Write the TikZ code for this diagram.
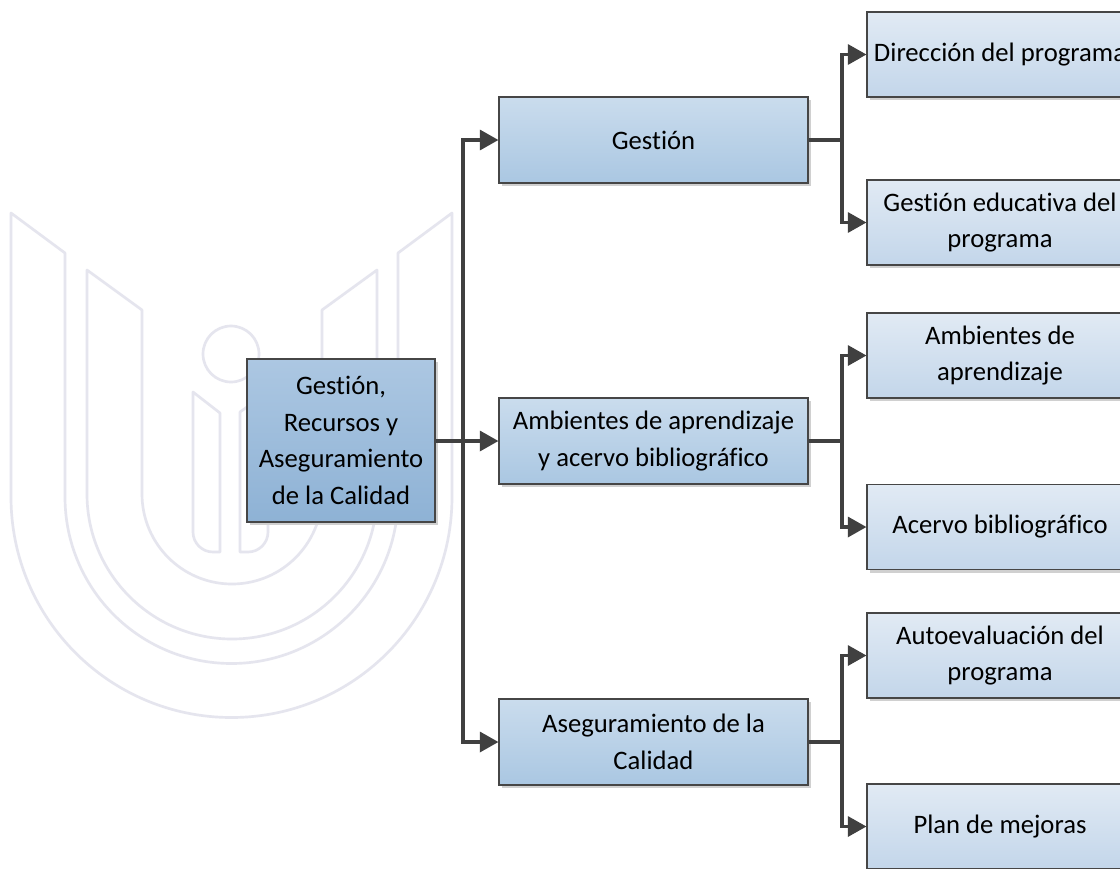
\documentclass[tikz,border=0pt]{standalone}
\usepackage{fontspec}
\setmainfont{Carlito}[Ligatures=NoCommon]
\usetikzlibrary{arrows.meta,shadows}
\definecolor{wmcol}{RGB}{229,229,238}
\definecolor{lineC}{RGB}{64,64,64}
\definecolor{edgeC}{RGB}{70,70,70}
\definecolor{shadowC}{RGB}{208,208,208}
\definecolor{rootTop}{RGB}{172,199,226}
\definecolor{rootBot}{RGB}{142,178,213}
\definecolor{midTop}{RGB}{202,220,237}
\definecolor{midBot}{RGB}{170,199,226}
\definecolor{leafTop}{RGB}{225,234,244}
\definecolor{leafBot}{RGB}{195,214,234}
\begin{document}
\begin{tikzpicture}[x=0.75pt,y=-0.75pt,
  wm/.style={draw=wmcol,line width=2pt,line join=round},
  boxbase/.style={rectangle,draw=edgeC,line width=0.8pt,inner sep=0pt,align=center,
    font=\fontsize{20}{27.5}\selectfont,
    drop shadow={shadow xshift=2.6pt,shadow yshift=-2.6pt,fill=shadowC,opacity=1}},
  rootbox/.style={boxbase,minimum width=141pt,minimum height=122.25pt,top color=rootTop,bottom color=rootBot},
  midbox/.style={boxbase,minimum width=231.75pt,minimum height=64.5pt,top color=midTop,bottom color=midBot},
  leafbox/.style={boxbase,minimum width=199.5pt,minimum height=63.75pt,top color=leafTop,bottom color=leafBot},
  conn/.style={draw=lineC,line width=2.6pt},
  arr/.style={conn,-{Triangle[length=14pt,width=15pt]}}]
\useasboundingbox (0,0) rectangle (1120,868);
\clip (0,0) rectangle (1120,868);
\fill[white] (0,0) rectangle (1120,868);
% watermark
\draw[wm] (11,213) -- (11,497) arc[start angle=180,end angle=0,radius=220.5] -- (452,213) -- (398,253) -- (398,497) arc[start angle=0,end angle=180,radius=166.5] -- (65,253) -- cycle;
\draw[wm] (87,270) -- (87,494) arc[start angle=180,end angle=0,radius=145] -- (377,270) -- (322,310) -- (322,494) arc[start angle=0,end angle=180,radius=90] -- (142,310) -- cycle;
\draw[wm] (231,354) circle[radius=28];
\draw[wm] (193,392) -- (220,413) -- (220,552) -- (213,552) arc[start angle=90,end angle=180,radius=20] -- cycle;
\draw[wm] (240,412) -- (268,392) -- (268,532) arc[start angle=0,end angle=90,radius=20] -- (240,552) -- cycle;
% nodes
\node[rootbox] (root) at (341,440.5) {Gestión,\\Recursos y\\Aseguramiento\\de la Calidad};
\node[midbox] (m1) at (653.5,140) {Gestión};
\node[midbox] (m2) at (653.5,441) {Ambientes de aprendizaje\\y acervo bibliográfico};
\node[midbox] (m3) at (653.5,742) {Aseguramiento de la\\Calidad};
\node[leafbox] (l1) at (1000,54.5) {Dirección del programa};
\node[leafbox] (l2) at (1000,222.5) {Gestión educativa del\\programa};
\node[leafbox] (l3) at (1000,355.5) {Ambientes de\\aprendizaje};
\node[leafbox] (l4) at (1000,527) {Acervo bibliográfico};
\node[leafbox] (l5) at (1000,655.5) {Autoevaluación del\\programa};
\node[leafbox] (l6) at (1000,826.5) {Plan de mejoras};
% junction points
\coordinate (j0) at (463,441);
\coordinate (j1) at (842,140);
\coordinate (j2) at (842,441);
\coordinate (j3) at (842,742);
% connectors
\draw[conn] (root.east |- j0) -- (j0);
\draw[arr] (j0) |- (m1.west);
\draw[arr] (j0) -- (m2.west);
\draw[arr] (j0) |- (m3.west);
\draw[conn] (m1.east) -- (j1);
\draw[arr] (j1) |- (l1.west);
\draw[arr] (j1) |- (l2.west);
\draw[conn] (m2.east) -- (j2);
\draw[arr] (j2) |- (l3.west);
\draw[arr] (j2) |- (l4.west);
\draw[conn] (m3.east) -- (j3);
\draw[arr] (j3) |- (l5.west);
\draw[arr] (j3) |- (l6.west);
\end{tikzpicture}
\end{document}
